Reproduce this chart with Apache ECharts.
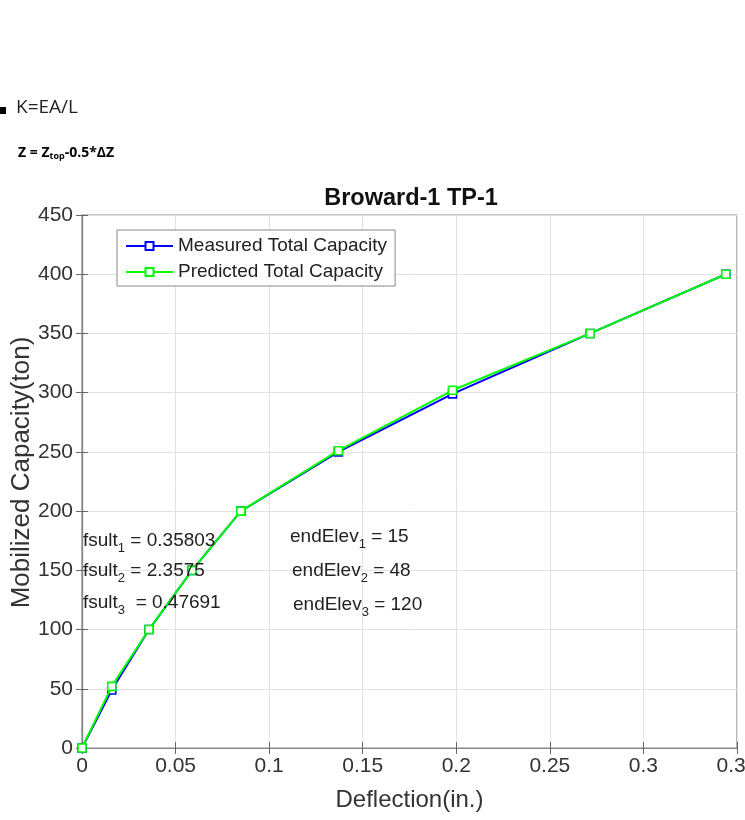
<!DOCTYPE html>
<html>
<head>
<meta charset="utf-8">
<script src="https://cdn.jsdelivr.net/npm/echarts@6/dist/echarts.min.js"></script>
<style>html,body{margin:0;padding:0;background:#fff;}#c{width:745px;height:820px;}</style>
</head>
<body>
<div id="c"></div>
<script>
// Data
const deflection = [0, 0.0159, 0.0358, 0.0588, 0.0849, 0.137, 0.198, 0.2715, 0.344];
const measured = [0, 49, 100, 150, 200, 250, 299, 350, 400];
const predicted = [0, 52, 100, 150, 200, 251, 302, 350, 400];
const seriesNames = ['Measured Total Capacity', 'Predicted Total Capacity'];
const xTicks = { min: 0, max: 0.35, interval: 0.05 };
const yTicks = { min: 0, max: 450, interval: 50 };
const annotLeft = [['fsult', '1', ' = 0.35803'], ['fsult', '2', ' = 2.3575'], ['fsult', '3', '  = 0.47691']];
const annotRight = [['endElev', '1', ' = 15'], ['endElev', '2', ' = 48'], ['endElev', '3', ' = 120']];

const FONT = '"Liberation Sans", Arial, sans-serif';
const chart = echarts.init(document.getElementById('c'), null, { renderer: 'canvas' });

function pairs(xs, ys) { return xs.map((x, i) => [x, ys[i]]); }

function annotText(a, x, y) {
  return {
    type: 'text', left: x, top: y, z: 50,
    style: {
      text: '{a|' + a[0] + '}{s|' + a[1] + '}{a|' + a[2] + '}',
      rich: {
        a: { fontSize: 19, fontFamily: FONT, fill: '#222' },
        s: { fontSize: 13, fontFamily: FONT, fill: '#222', padding: [16, 0, 0, 0] }
      }
    }
  };
}

const graphics = [
  { type: 'rect', shape: { x: 0, y: 107, width: 6, height: 7 }, style: { fill: '#000' } },
  { type: 'text', left: 16, top: 98, style: { text: 'K=EA/L', font: '19px "Open Sans", "DejaVu Sans", sans-serif', fill: '#222' } },
  { type: 'text', left: 18, top: 146, style: {
      text: '{b|Z = Z}{sb|top}{b|-0.5*ΔZ}',
      rich: {
        b: { fontSize: 14, fontWeight: 'bold', fontFamily: '"Open Sans", sans-serif', fill: '#000' },
        sb: { fontSize: 9, fontWeight: 'bold', fontFamily: '"Open Sans", sans-serif', fill: '#000', padding: [7, 0, 0, 0] }
      } } }
];
const leftYs = [531, 561, 593];
const rightYs = [527, 561, 595];
const rightXs = [290, 292, 293];
annotLeft.forEach((a, i) => graphics.push(annotText(a, 83, leftYs[i])));
annotRight.forEach((a, i) => graphics.push(annotText(a, rightXs[i], rightYs[i])));

const axisBase = {
  type: 'value',
  axisLine: { show: true, lineStyle: { color: '#888', width: 1.2 } },
  axisTick: { show: true, inside: true, length: 6, lineStyle: { color: '#666' } },
  splitLine: { show: false }
};

chart.setOption({
  backgroundColor: '#ffffff',
  animation: false,
  title: {
    text: 'Broward-1 TP-1', left: 406, top: 182, textAlign: 'center',
    textStyle: { fontFamily: FONT, fontSize: 23.5, fontWeight: 'bold', color: '#111' }
  },
  legend: {
    orient: 'vertical', left: 117, top: 230,
    data: seriesNames,
    backgroundColor: '#fff', borderColor: '#888', borderWidth: 1,
    padding: [6, 8, 4, 8], itemGap: 6, itemWidth: 47, itemHeight: 10,
    textStyle: { fontFamily: FONT, fontSize: 19, color: '#222', lineHeight: 20 },
    z: 20
  },
  grid: {
    left: 82, right: 8, top: 215, bottom: 72, containLabel: false, outerBoundsMode: 'none',
    show: true, borderColor: '#888', borderWidth: 1.2, backgroundColor: '#fff'
  },
  xAxis: [
    Object.assign({}, axisBase, {
      min: xTicks.min, max: xTicks.max, interval: xTicks.interval, position: 'bottom',
      name: 'Deflection(in.)', nameLocation: 'middle', nameGap: 40, nameMoveOverlap: false,
      nameTextStyle: { fontFamily: FONT, fontSize: 24, color: '#333' },
      axisLabel: { fontFamily: FONT, fontSize: 21, color: '#333', margin: 8, showMaxLabel: true, hideOverlap: false },
      splitLine: { show: true, lineStyle: { color: '#e2e2e2', width: 1 } }
    }),
    Object.assign({}, axisBase, {
      min: xTicks.min, max: xTicks.max, interval: xTicks.interval, position: 'top',
      axisLabel: { show: false }
    })
  ],
  yAxis: [
    Object.assign({}, axisBase, {
      min: yTicks.min, max: yTicks.max, interval: yTicks.interval, position: 'left',
      name: 'Mobilized Capacity(ton)', nameLocation: 'middle', nameGap: 47, nameMoveOverlap: false,
      nameTextStyle: { fontFamily: FONT, fontSize: 26, color: '#333', padding: [0, 0, 0, 18] },
      axisLabel: { fontFamily: FONT, fontSize: 21, color: '#333', margin: 9 },
      splitLine: { show: true, lineStyle: { color: '#e2e2e2', width: 1 } }
    }),
    Object.assign({}, axisBase, {
      min: yTicks.min, max: yTicks.max, interval: yTicks.interval, position: 'right',
      axisLabel: { show: false }
    })
  ],
  series: [
    {
      name: seriesNames[0], type: 'line', data: pairs(deflection, measured),
      xAxisIndex: 0, yAxisIndex: 0,
      symbol: 'rect', symbolSize: 8, showAllSymbol: true,
      lineStyle: { color: '#0000ff', width: 2 },
      itemStyle: { color: '#ffffff', borderColor: '#0000ff', borderWidth: 1.6 },
      z: 2
    },
    {
      name: seriesNames[1], type: 'line', data: pairs(deflection, predicted),
      xAxisIndex: 0, yAxisIndex: 0,
      symbol: 'rect', symbolSize: 8, showAllSymbol: true,
      lineStyle: { color: '#00ff00', width: 2 },
      itemStyle: { color: '#ffffff', borderColor: '#00ff00', borderWidth: 1.6 },
      z: 3
    }
  ],
  graphic: graphics
});
</script>
</body>
</html>
